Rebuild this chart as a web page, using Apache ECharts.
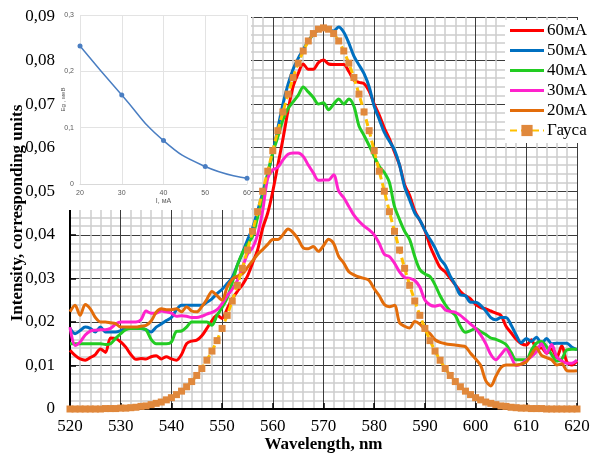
<!DOCTYPE html>
<html><head><meta charset="utf-8">
<script src="https://cdn.jsdelivr.net/npm/echarts@6/dist/echarts.min.js"></script>
<style>html,body{margin:0;padding:0;background:#fff}#c{width:590px;height:460px}</style>
</head><body><div id="c"></div>
<script>
// Wavelength, nm
const wavelength = [520,521,522,523,524,525,526,527,528,529,530,531,532,533,534,535,536,537,538,539,540,541,542,543,544,545,546,547,548,549,550,551,552,553,554,555,556,557,558,559,560,561,562,563,564,565,566,567,568,569,570,571,572,573,574,575,576,577,578,579,580,581,582,583,584,585,586,587,588,589,590,591,592,593,594,595,596,597,598,599,600,601,602,603,604,605,606,607,608,609,610,611,612,613,614,615,616,617,618,619,620];
// Intensities in units of 10^-3
const i60 = [13.5,12.3,11.5,11.2,11.8,12.5,13.8,13.0,16.3,16.2,15.4,14.2,12.5,11.4,11.6,11.5,12.0,12.2,11.5,12.0,11.5,11.2,12.5,15.0,15.6,15.8,16.8,18.5,20.3,21.5,20.8,23.0,25.3,27.0,28.5,30.5,33.5,36.5,41.5,45.0,50.0,56.0,62.0,68.5,74.0,77.0,79.2,78.0,78.0,79.5,80.1,79.2,79.1,79.1,79.1,77.5,75.5,75.0,74.7,73.0,70.0,67.5,64.5,62.0,59.0,56.0,51.5,49.0,45.5,43.3,41.0,37.5,34.8,32.5,31.5,30.0,28.5,27.0,26.0,25.3,24.0,23.3,23.0,22.5,22.0,21.5,19.0,17.5,16.0,15.0,14.7,15.9,14.0,14.0,12.8,13.8,11.8,14.5,10.8,10.1,11.0];
const i50 = [18.5,17.3,18.0,18.8,18.5,17.7,18.8,17.7,17.7,17.7,18.0,18.5,18.5,18.5,18.5,18.2,17.7,18.8,19.5,20.3,21.0,22.8,23.8,23.8,23.8,23.8,23.8,24.5,25.3,26.5,27.5,28.8,30.2,33.0,35.8,38.8,41.5,45.5,49.6,54.0,58.8,64.5,70.0,74.5,78.0,80.5,82.5,84.5,86.0,87.0,87.5,87.0,86.8,87.7,86.5,84.0,81.0,79.0,77.0,74.0,69.5,66.5,63.5,61.5,59.5,56.0,51.0,48.0,45.0,43.4,41.0,39.0,37.0,34.5,33.0,30.5,28.5,26.2,26.0,24.5,24.5,23.8,22.5,21.0,20.5,21.0,21.0,19.3,17.0,15.2,16.2,15.5,16.5,15.0,16.2,15.0,15.1,15.1,15.1,14.2,13.6];
const i40 = [15.0,15.0,15.0,15.0,15.0,15.0,15.0,14.8,15.0,16.2,17.3,18.2,18.5,18.5,18.5,18.2,16.0,15.0,15.0,15.0,15.4,17.8,17.9,18.8,20.0,20.0,20.0,20.0,19.2,21.5,23.3,25.5,29.0,33.0,35.8,37.8,39.6,44.0,48.5,54.0,58.8,62.5,66.4,69.0,70.5,72.0,73.9,72.8,71.5,70.0,70.3,68.7,70.0,71.2,70.0,71.2,69.5,65.0,62.8,60.5,58.0,55.7,54.3,52.0,46.5,43.5,40.8,38.9,35.0,32.0,31.0,30.4,28.5,26.0,24.0,22.5,21.5,19.0,17.6,18.0,18.5,17.8,17.1,16.3,16.0,15.5,14.8,13.0,11.3,11.3,11.3,13.5,15.1,15.5,14.3,12.5,11.0,11.5,13.6,13.7,13.7];
const i30 = [18.8,14.6,15.4,17.0,17.9,18.1,18.2,18.2,18.5,19.5,20.0,20.0,20.0,20.0,20.5,22.5,22.0,22.0,22.5,22.3,22.0,21.3,21.4,21.3,21.0,21.0,21.3,21.8,22.2,22.8,24.2,26.0,27.5,29.5,32.5,35.5,37.0,40.0,45.5,53.0,54.9,55.5,57.2,58.5,58.8,58.8,58.0,56.0,54.2,52.5,52.6,52.6,53.8,50.0,48.5,46.5,44.5,43.1,42.0,41.1,40.0,38.0,35.5,35.0,33.5,31.5,30.2,30.0,29.5,28.0,25.0,23.9,23.6,23.9,22.8,22.4,22.2,21.5,20.5,19.5,18.5,17.0,15.0,12.5,11.3,12.5,13.8,12.0,10.0,10.3,11.2,12.0,13.2,15.0,12.8,14.8,12.0,11.0,10.5,10.5,11.2];
const i20 = [22.3,23.8,21.5,24.0,23.0,21.0,20.0,20.0,19.8,19.6,18.8,18.8,18.8,18.8,19.0,19.2,20.2,22.2,23.0,22.8,22.8,23.0,22.3,23.5,22.5,22.3,23.5,25.2,27.0,26.0,25.0,28.0,29.8,30.5,31.0,32.5,34.0,35.5,36.6,37.8,38.9,38.9,40.0,41.3,40.5,39.0,37.0,36.8,37.3,36.2,37.5,39.0,38.0,35.0,33.5,31.5,30.8,30.3,30.0,29.5,27.6,26.0,24.0,23.5,23.8,19.8,19.0,18.6,20.1,19.5,18.2,17.3,15.9,15.3,15.0,14.8,14.7,14.5,14.3,12.8,11.5,10.0,6.5,5.3,7.5,9.5,10.1,10.1,10.1,10.3,10.8,12.5,14.0,12.3,11.8,11.3,10.1,10.4,8.8,8.7,8.8];
const gauss = [0,0,0,0,0,0,0,0.1,0.1,0.1,0.2,0.2,0.3,0.4,0.6,0.7,1.0,1.3,1.6,2.1,2.6,3.3,4.1,5.1,6.3,7.7,9.3,11.2,13.3,15.7,18.5,21.5,24.8,28.4,32.3,36.5,40.8,45.3,50.0,54.6,59.3,63.9,68.2,72.3,76.1,79.4,82.2,84.5,86.2,87.2,87.5,87.2,86.2,84.5,82.2,79.4,76.1,72.3,68.2,63.9,59.3,54.6,50.0,45.3,40.8,36.5,32.3,28.4,24.8,21.5,18.5,15.7,13.3,11.2,9.3,7.7,6.3,5.1,4.1,3.3,2.6,2.1,1.6,1.3,1.0,0.7,0.6,0.4,0.3,0.2,0.2,0.1,0.1,0.1,0,0,0,0,0,0,0];
const seriesNames = ['60мА','50мА','40мА','30мА','20мА','Гауса'];
// Inset: band-gap shift vs current
const insetCurrent = [20,30,40,50,60];
const insetEnergy = [0.245,0.158,0.077,0.031,0.010];

const pair = arr => arr.map((v,i)=>[wavelength[i], v/1000]);
const serif = 'Liberation Serif';
const colors = ['#FF0000','#0070C0','#22CC22','#FF22CC','#E36C0A'];
const noisy = [i60,i50,i40,i30,i20];

const series = noisy.map((arr,k)=>({
  name: seriesNames[k], type:'line', data: pair(arr), symbol:'none', smooth:0.3,
  xAxisIndex:0, yAxisIndex:0,
  lineStyle:{color:colors[k], width:3}, itemStyle:{color:colors[k]}
}));
series.push({
  name: seriesNames[5], type:'line', data: pair(gauss), symbol:'rect', symbolSize:7,
  xAxisIndex:0, yAxisIndex:0,
  lineStyle:{color:'#FFC000', width:3, type:[7,4]}, itemStyle:{color:'#E0883C'}
});
series.push({
  type:'line', data: insetCurrent.map((c,i)=>[c, insetEnergy[i]]), xAxisIndex:1, yAxisIndex:1,
  smooth:true, symbol:'circle', symbolSize:5, z:61,
  lineStyle:{color:'#4A7EC2', width:1.5}, itemStyle:{color:'#4A7EC2'}
});

const lineIcon = 'path://M0,0H34V3H0Z';
const legendData = seriesNames.map((n,k)=> k < 5 ? {name:n, icon:lineIcon} : {name:n});

const chart = echarts.init(document.getElementById('c'));
chart.setOption({
  animation:false,
  backgroundColor:'#fff',
  grid:[
    {left:70, right:13, top:17, bottom:51, outerBoundsMode:'none', containLabel:false},
    {left:80, top:15, width:167, height:169, outerBoundsMode:'none', containLabel:false}
  ],
  graphic:[{type:'rect', shape:{x:58,y:0,width:193,height:210}, style:{fill:'#fff'}, z:50}],
  legend:{
    data: legendData, orient:'vertical', left:505, top:20, itemWidth:34, itemHeight:14, itemGap:3,
    backgroundColor:'#fff', padding:[2,2,4,4],
    textStyle:{fontFamily:serif, fontSize:17, color:'#000', padding:[0,0,0,-2]}
  },
  xAxis:[{
    type:'value', min:520, max:620, interval:10, gridIndex:0,
    name:'Wavelength, nm', nameLocation:'middle', nameGap:27, nameMoveOverlap:false,
    nameTextStyle:{fontFamily:serif, fontSize:17, fontWeight:'bold', color:'#000'},
    axisLine:{show:true, onZero:false, lineStyle:{color:'#000', width:2}},
    axisTick:{show:true, inside:true, length:6, lineStyle:{color:'#000', width:1.5}},
    axisLabel:{fontFamily:serif, fontSize:17, color:'#000', margin:9},
    splitLine:{show:true, lineStyle:{color:'#3c3c3c', width:1}},
    minorTick:{show:false, splitNumber:5},
    minorSplitLine:{show:true, lineStyle:{color:'#CDCDCD', width:1.5}}
  },{
    type:'value', min:20, max:60, interval:10, gridIndex:1, z:60,
    name:'I, мА', nameLocation:'middle', nameGap:14, nameMoveOverlap:false,
    nameTextStyle:{fontFamily:'Liberation Sans', fontSize:7, color:'#595959'},
    axisLine:{show:true, lineStyle:{color:'#D9D9D9', width:1}},
    axisTick:{show:false},
    axisLabel:{fontFamily:'Liberation Sans', fontSize:7, color:'#595959', margin:6},
    splitLine:{show:true, lineStyle:{color:'#E3E3E3', width:1}}
  }],
  yAxis:[{
    type:'value', min:0, max:0.09, interval:0.01, gridIndex:0,
    name:'Intensity, corresponding units', nameLocation:'middle', nameGap:44, nameMoveOverlap:false,
    nameTextStyle:{fontFamily:serif, fontSize:17, fontWeight:'bold', color:'#000'},
    axisLine:{show:true, lineStyle:{color:'#000', width:2}},
    axisTick:{show:true, inside:true, length:6, lineStyle:{color:'#000', width:1.5}},
    axisLabel:{fontFamily:serif, fontSize:17, color:'#000', margin:15,
      formatter: v => v === 0 ? '0' : v.toFixed(2).replace('.', ',')},
    splitLine:{show:true, lineStyle:{color:'#3c3c3c', width:1}},
    minorTick:{show:false, splitNumber:5},
    minorSplitLine:{show:true, lineStyle:{color:'#CDCDCD', width:1.5}}
  },{
    type:'value', min:0, max:0.3, interval:0.1, gridIndex:1, z:60,
    name:'Eg , меВ', nameLocation:'middle', nameGap:14, nameMoveOverlap:false,
    nameTextStyle:{fontFamily:'Liberation Sans', fontSize:6, color:'#595959'},
    axisLine:{show:false}, axisTick:{show:false},
    axisLabel:{fontFamily:'Liberation Sans', fontSize:7, color:'#595959', margin:6,
      formatter: v => v === 0 ? '0' : v.toFixed(1).replace('.', ',')},
    splitLine:{show:true, lineStyle:{color:'#E3E3E3', width:1}}
  }],
  series: series
});
</script></body></html>
